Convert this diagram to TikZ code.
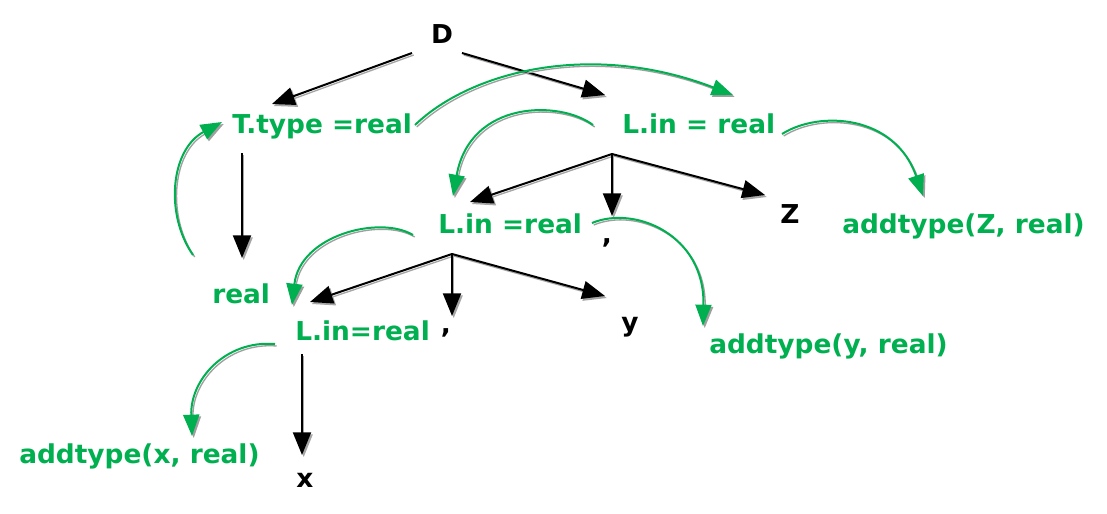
\documentclass[tikz,border=0pt]{standalone}
\usepackage{fontspec}
\setmainfont{DejaVu Sans}[FakeStretch=1.015]
\usetikzlibrary{arrows.meta}
\definecolor{gr}{HTML}{00B050}
\begin{document}
\begin{tikzpicture}[x=0.75pt,y=-0.75pt,
  lbl/.style={inner sep=0pt,font=\fontsize{19.5}{23}\selectfont\bfseries},
  glbl/.style={lbl,text=gr},
  blbl/.style={lbl,text=black},
  barrow/.style={line width=1.5pt,draw=black,-{Triangle[length=17pt,width=13.5pt]},
    preaction={draw=gray!70,line width=1pt,transform canvas={shift={(1.3pt,-1.5pt)}}}},
  garrow/.style={line width=1.5pt,draw=gr,-{Triangle[length=16pt,width=12pt]},
    preaction={draw=gray!75,line width=1pt,transform canvas={shift={(1.3pt,-1.5pt)}}}}]
\useasboundingbox[fill=white] (0,0) rectangle (1107,514);

% nodes
\node[blbl,anchor=base] (D) at (442,43) {D};
\node[glbl,anchor=base west] (T) at (232,133) {T.type =real};
\node[glbl,anchor=base west] (L1) at (622,133) {L.in = real};
\node[glbl,anchor=base west] (L2) at (438,233) {L.in =real};
\node[blbl,anchor=base] (c1) at (607,243) {,};
\node[blbl,anchor=base] (Z) at (790,223) {Z};
\node[glbl,anchor=base west] (aZ) at (842,233) {addtype(Z, real)};
\node[glbl,anchor=base west] (R) at (212,303) {real};
\node[glbl,anchor=base west] (L3) at (295,340) {L.in=real};
\node[blbl,anchor=base] (c2) at (446,333) {,};
\node[blbl,anchor=base] (Y) at (630,331) {y};
\node[glbl,anchor=base west] (aY) at (709,353) {addtype(y, real)};
\node[blbl,anchor=base] (X) at (305,487) {x};
\node[glbl,anchor=base west] (aX) at (19,463) {addtype(x, real)};

% connector coordinates
\coordinate (Dl) at (412,53);
\coordinate (Dr) at (462,53);
\coordinate (Tin) at (272,104);
\coordinate (L1in) at (605,95);
\coordinate (Tb) at (242,153);
\coordinate (Rin) at (242,258);
\coordinate (B1) at (612,154);
\coordinate (L2in) at (470,202);
\coordinate (c1in) at (612,216);
\coordinate (Zin) at (765,195);
\coordinate (B2) at (452,254);
\coordinate (L3in) at (310,302);
\coordinate (c2in) at (452,316);
\coordinate (Yin) at (605,296);
\coordinate (B3) at (302,354);
\coordinate (Xin) at (302,455);

% black tree edges
\draw[barrow] (Dl) -- (Tin);
\draw[barrow] (Dr) -- (L1in);
\draw[barrow] (Tb) -- (Rin);
\draw[barrow] (B1) -- (L2in);
\draw[barrow] (B1) -- (c1in);
\draw[barrow] (B1) -- (Zin);
\draw[barrow] (B2) -- (L3in);
\draw[barrow] (B2) -- (c2in);
\draw[barrow] (B2) -- (Yin);
\draw[barrow] (B3) -- (Xin);

% green attribute flow
\coordinate (g1s) at (415,125);  \coordinate (g1e) at (733,95);
\coordinate (g2s) at (593,125);  \coordinate (g2e) at (453,196);
\coordinate (g3s) at (193,255);  \coordinate (g3e) at (222,122);
\coordinate (g4s) at (413,235);  \coordinate (g4e) at (292,305);
\coordinate (g5s) at (275,344);  \coordinate (g5e) at (192,436);
\coordinate (g6s) at (782,134);  \coordinate (g6e) at (923,196);
\coordinate (g7s) at (592,223);  \coordinate (g7e) at (703,326);

\draw[garrow] (g1s) .. controls (470,72) and (590,40) .. (g1e);
\draw[garrow] (g2s) .. controls (560,100) and (470,100) .. (g2e);
\draw[garrow] (g3s) .. controls (165,215) and (170,150) .. (g3e);
\draw[garrow] (g4s) .. controls (380,215) and (300,235) .. (g4e);
\draw[garrow] (g5s) .. controls (225,340) and (190,380) .. (g5e);
\draw[garrow] (g6s) .. controls (820,110) and (895,115) .. (g6e);
\draw[garrow] (g7s) .. controls (635,205) and (705,235) .. (g7e);
\end{tikzpicture}
\end{document}
